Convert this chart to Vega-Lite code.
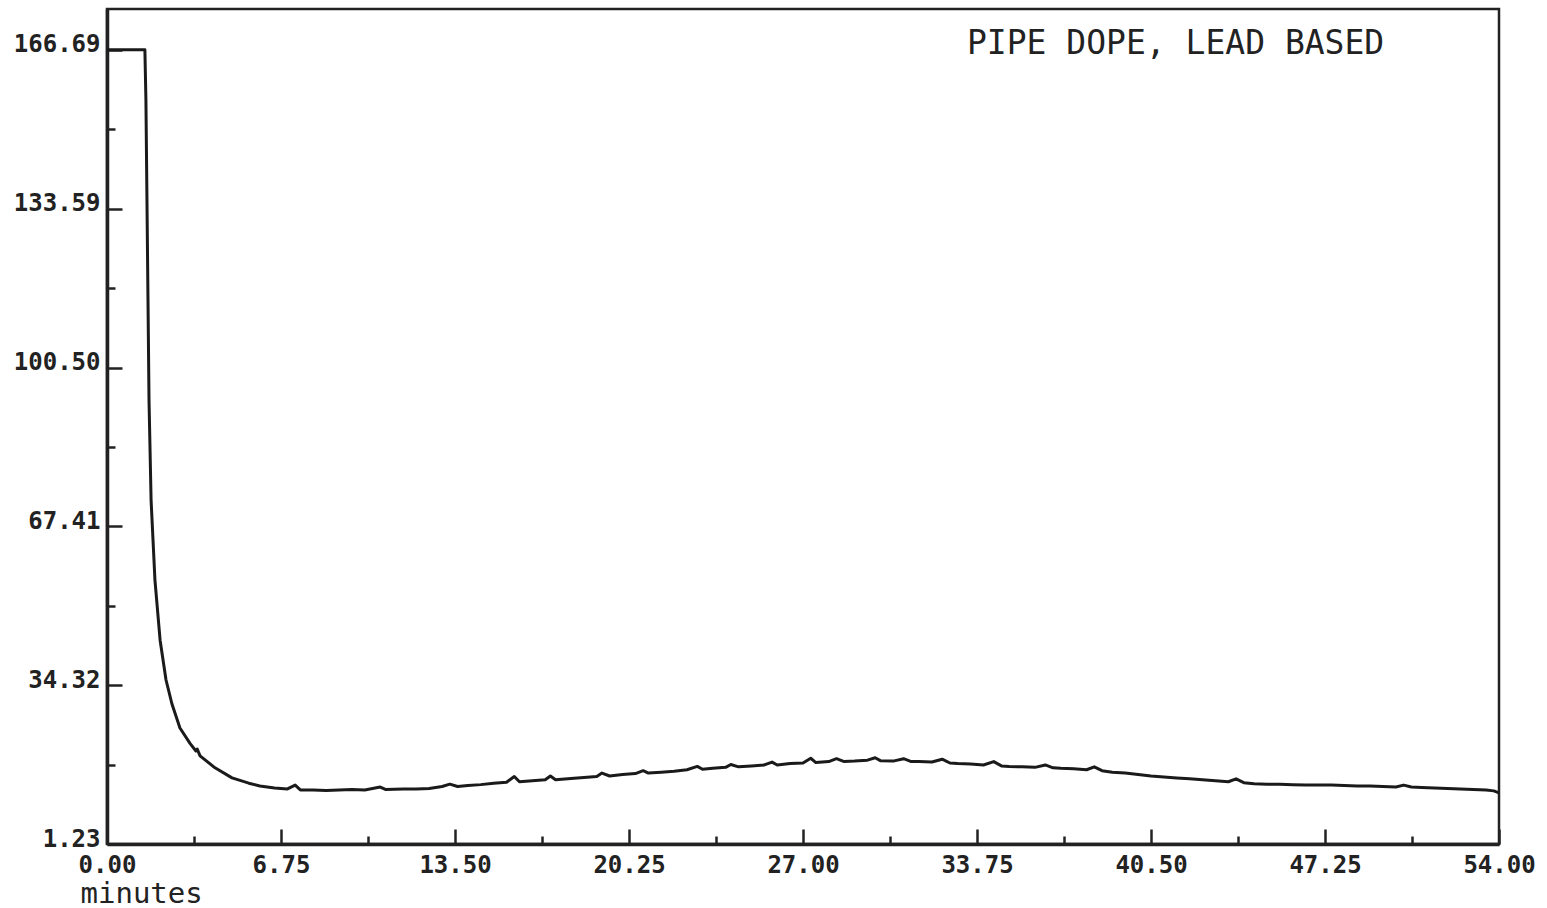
{
  "$schema": "https://vega.github.io/schema/vega-lite/v6.json",
  "width": 1392,
  "height": 835,
  "autosize": "none",
  "padding": {"left": 107, "top": 9, "right": 48, "bottom": 64},
  "background": "white",
  "config": {
    "view": {"stroke": "#222", "strokeWidth": 2.5},
    "axis": {
      "domainColor": "#222", "domainWidth": 3.5,
      "tickColor": "#222", "tickWidth": 2.5,
      "labelFont": "DejaVu Sans Mono", "labelFontWeight": "bold", "labelFontSize": 24, "labelColor": "#222",
      "grid": false
    }
  },
  "title": {
    "text": "PIPE DOPE, LEAD BASED",
    "anchor": "start", "frame": "group", "orient": "top",
    "offset": -78, "baseline": "alphabetic", "dx": 860,
    "font": "DejaVu Sans Mono", "fontSize": 33, "fontWeight": "normal", "color": "#222"
  },
  "data": {
    "values": [
      {"t": 0, "v": 166.69}, {"t": 1.47, "v": 166.69}, {"t": 1.51, "v": 156.2}, {"t": 1.55, "v": 135.4},
      {"t": 1.59, "v": 114.6}, {"t": 1.63, "v": 93.7}, {"t": 1.71, "v": 72.9}, {"t": 1.86, "v": 56.2},
      {"t": 2.06, "v": 43.7}, {"t": 2.29, "v": 35.4}, {"t": 2.52, "v": 30.4}, {"t": 2.83, "v": 25.4},
      {"t": 3.22, "v": 22.2}, {"t": 3.45, "v": 20.6}, {"t": 3.5, "v": 21.0}, {"t": 3.61, "v": 19.6},
      {"t": 4.19, "v": 17.1}, {"t": 4.85, "v": 15.0}, {"t": 5.5, "v": 13.9}, {"t": 5.93, "v": 13.3},
      {"t": 6.5, "v": 12.9}, {"t": 7.0, "v": 12.7},
      {"t": 7.3, "v": 13.5}, {"t": 7.5, "v": 12.5}, {"t": 8.0, "v": 12.5}, {"t": 8.5, "v": 12.4},
      {"t": 9.0, "v": 12.5}, {"t": 9.5, "v": 12.6}, {"t": 10.0, "v": 12.5}, {"t": 10.6, "v": 13.1},
      {"t": 10.8, "v": 12.6}, {"t": 11.5, "v": 12.7}, {"t": 12.0, "v": 12.7}, {"t": 12.5, "v": 12.8},
      {"t": 13.0, "v": 13.2}, {"t": 13.3, "v": 13.7}, {"t": 13.6, "v": 13.2}, {"t": 14.0, "v": 13.4},
      {"t": 14.5, "v": 13.6}, {"t": 15.0, "v": 13.9}, {"t": 15.5, "v": 14.1}, {"t": 15.8, "v": 15.3},
      {"t": 16.0, "v": 14.2}, {"t": 16.5, "v": 14.4}, {"t": 17.0, "v": 14.6}, {"t": 17.2, "v": 15.4},
      {"t": 17.4, "v": 14.6}, {"t": 18.0, "v": 14.9}, {"t": 18.5, "v": 15.1}, {"t": 19.0, "v": 15.3},
      {"t": 19.2, "v": 16.0}, {"t": 19.5, "v": 15.4}, {"t": 20.0, "v": 15.7}, {"t": 20.5, "v": 15.9},
      {"t": 20.8, "v": 16.5}, {"t": 21.0, "v": 16.0}, {"t": 21.5, "v": 16.2}, {"t": 22.0, "v": 16.4},
      {"t": 22.5, "v": 16.7}, {"t": 22.9, "v": 17.4}, {"t": 23.1, "v": 16.8}, {"t": 23.5, "v": 17.0},
      {"t": 24.0, "v": 17.2}, {"t": 24.2, "v": 17.8}, {"t": 24.5, "v": 17.3}, {"t": 25.0, "v": 17.5},
      {"t": 25.5, "v": 17.7}, {"t": 25.8, "v": 18.3}, {"t": 26.0, "v": 17.7}, {"t": 26.5, "v": 18.0},
      {"t": 27.0, "v": 18.1}, {"t": 27.3, "v": 19.1}, {"t": 27.5, "v": 18.2}, {"t": 28.0, "v": 18.4},
      {"t": 28.3, "v": 19.0}, {"t": 28.6, "v": 18.4}, {"t": 29.0, "v": 18.5}, {"t": 29.5, "v": 18.7},
      {"t": 29.8, "v": 19.2}, {"t": 30.0, "v": 18.6}, {"t": 30.5, "v": 18.5}, {"t": 30.9, "v": 19.0},
      {"t": 31.2, "v": 18.4}, {"t": 31.5, "v": 18.4}, {"t": 32.0, "v": 18.3}, {"t": 32.4, "v": 18.9},
      {"t": 32.7, "v": 18.1}, {"t": 33.0, "v": 18.0}, {"t": 33.5, "v": 17.9}, {"t": 34.0, "v": 17.7},
      {"t": 34.4, "v": 18.4}, {"t": 34.7, "v": 17.5}, {"t": 35.0, "v": 17.4}, {"t": 35.5, "v": 17.3},
      {"t": 36.0, "v": 17.2}, {"t": 36.4, "v": 17.7}, {"t": 36.7, "v": 17.1}, {"t": 37.0, "v": 17.0},
      {"t": 37.5, "v": 16.9}, {"t": 38.0, "v": 16.7}, {"t": 38.3, "v": 17.3}, {"t": 38.6, "v": 16.5},
      {"t": 39.0, "v": 16.2}, {"t": 39.5, "v": 16.0}, {"t": 40.0, "v": 15.7}, {"t": 40.5, "v": 15.4},
      {"t": 41.0, "v": 15.2}, {"t": 41.5, "v": 15.0}, {"t": 42.0, "v": 14.8}, {"t": 42.5, "v": 14.6},
      {"t": 43.0, "v": 14.4}, {"t": 43.5, "v": 14.2}, {"t": 43.8, "v": 14.8}, {"t": 44.1, "v": 14.0},
      {"t": 44.5, "v": 13.8}, {"t": 45.0, "v": 13.7}, {"t": 45.5, "v": 13.7}, {"t": 46.0, "v": 13.6},
      {"t": 46.5, "v": 13.5}, {"t": 47.0, "v": 13.5}, {"t": 47.5, "v": 13.5}, {"t": 48.0, "v": 13.4},
      {"t": 48.5, "v": 13.3}, {"t": 49.0, "v": 13.3}, {"t": 49.5, "v": 13.2}, {"t": 50.0, "v": 13.1},
      {"t": 50.3, "v": 13.5}, {"t": 50.6, "v": 13.1}, {"t": 51.0, "v": 13.0}, {"t": 51.5, "v": 12.9},
      {"t": 52.0, "v": 12.8}, {"t": 52.5, "v": 12.7}, {"t": 53.0, "v": 12.6}, {"t": 53.5, "v": 12.5},
      {"t": 53.8, "v": 12.3}, {"t": 54.0, "v": 11.9}
    ]
  },
  "mark": {"type": "line", "color": "#1a1a1a", "strokeWidth": 3, "strokeJoin": "round"},
  "encoding": {
    "x": {
      "field": "t", "type": "quantitative",
      "scale": {"domain": [0, 54], "nice": false, "zero": false},
      "axis": {
        "values": [0, 3.375, 6.75, 10.125, 13.5, 16.875, 20.25, 23.625, 27, 30.375, 33.75, 37.125, 40.5, 43.875, 47.25, 50.625, 54],
        "labelExpr": "round(datum.value/3.375) % 2 === 0 ? format(datum.value, '.2f') : ''",
        "tickSize": {"condition": {"test": "round(datum.value/3.375) % 2 === 0", "value": -15}, "value": -8},
        "labelPadding": 24, "labelBaseline": "top", "labelFlush": false, "labelOverlap": false,
        "title": "minutes", "titleFont": "DejaVu Sans Mono", "titleFontSize": 29, "titleFontWeight": "normal",
        "titleColor": "#222", "titleAnchor": "start", "titleAlign": "left", "titleBaseline": "alphabetic",
        "titleX": -27, "titleY": 58
      }
    },
    "y": {
      "field": "v", "type": "quantitative",
      "scale": {"domain": [1.23, 175.2], "nice": false, "zero": false},
      "axis": {
        "values": [1.23, 17.775, 34.32, 50.865, 67.41, 83.955, 100.5, 117.045, 133.59, 150.14, 166.69],
        "labelExpr": "round((datum.value-1.23)/16.545) % 2 === 0 ? format(datum.value, '.2f') : ''",
        "tickSize": {"condition": {"test": "round((datum.value-1.23)/16.545) % 2 === 0", "value": -15}, "value": -8},
        "labelPadding": 22, "labelBaseline": "alphabetic", "labelOffset": 2, "labelFlush": false, "labelOverlap": false,
        "title": null
      }
    }
  }
}
